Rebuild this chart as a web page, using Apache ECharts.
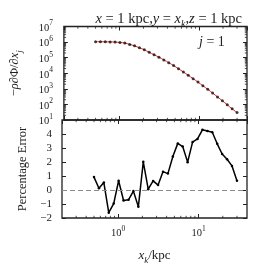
<!DOCTYPE html>
<html>
<head>
<meta charset="utf-8">
<script src="https://cdn.jsdelivr.net/npm/echarts@6/dist/echarts.min.js"></script>
<style>html,body{margin:0;padding:0;background:#fff}#c{width:257px;height:272px}</style>
</head>
<body>
<div id="c"></div>
<script>
// x_k positions (kpc)
const xk = [0.5, 0.576, 0.663, 0.763, 0.879, 1.012, 1.166, 1.343, 1.546, 1.781,
  2.051, 2.362, 2.720, 3.132, 3.607, 4.154, 4.784, 5.509, 6.345, 7.307,
  8.414, 9.690, 11.16, 12.85, 14.80, 17.04, 19.63, 22.60, 26.03, 30.0];
// -rho dPhi/dx_j
const forceVals = [1.05e6, 1.05e6, 1.04e6, 1.03e6, 1.0e6, 9.5e5, 8.7e5, 7.1e5, 5.75e5, 4.27e5,
  3.24e5, 2.19e5, 1.55e5, 1.07e5, 7.2e4, 4.8e4, 3.1e4, 1.95e4, 1.2e4, 7.4e3,
  4.5e3, 2.7e3, 1.58e3, 930, 537, 302, 170, 95, 52, 30];
// Percentage error
const errVals = [0.92, 0.12, 0.53, -1.62, -0.97, 0.66, -0.75, -0.70, -0.08, -1.2,
  2.01, 0.06, 0.65, 0.35, 1.31, 1.17, 2.39, 3.33, 3.1, 1.99,
  3.42, 3.65, 4.3, 4.22, 4.12, 3.3, 2.57, 2.2, 1.72, 0.66];
const xRange = [0.2, 40];
const forceRange = [10, 1e7];
const errRange = [-2, 5];
const errTicks = [-2, -1, 0, 1, 2, 3, 4];
const xMinorTicks = [0.3, 0.4, 0.5, 0.6, 0.7, 0.8, 0.9, 2, 3, 4, 5, 6, 7, 8, 9, 20, 30];
const forceMinorTicks = [];
[1, 2, 3, 4, 5, 6].forEach(e => { [2,3,4,5,6,7,8,9].forEach(m => forceMinorTicks.push(m * Math.pow(10, e))); });

const FONT = 'Liberation Serif';
const INK = '#222';

function powLabel(v) {
  const e = Math.log10(v);
  const r = Math.round(e);
  if (Math.abs(e - r) > 1e-6) return '';
  return '{b|10}{s|' + r + '}';
}
const powRich = {
  b: { fontSize: 10.5, fontFamily: FONT, color: INK, lineHeight: 14, verticalAlign: 'bottom' },
  s: { fontSize: 7.5, fontFamily: FONT, color: INK, lineHeight: 14, verticalAlign: 'top' }
};

const chart = echarts.init(document.getElementById('c'), null, { renderer: 'canvas' });

const gridL = 62, gridR = 10;
const baseTick = { show: true, inside: true, length: 4, lineStyle: { color: INK, width: 1 } };
const noLine = { show: false, onZero: false };

function minorRender(lo, hi, horizontal) {
  return function (params, api) {
    const v = api.value(0);
    let a, b;
    if (horizontal) {
      a = api.coord([v, lo]); b = api.coord([v, hi]);
      return { type: 'group', children: [
        { type: 'line', shape: { x1: a[0], y1: a[1], x2: a[0], y2: a[1] - 2.2 }, style: { stroke: INK, lineWidth: 0.8 } },
        { type: 'line', shape: { x1: b[0], y1: b[1], x2: b[0], y2: b[1] + 2.2 }, style: { stroke: INK, lineWidth: 0.8 } }
      ] };
    } else {
      a = api.coord([lo, v]); b = api.coord([hi, v]);
      return { type: 'group', children: [
        { type: 'line', shape: { x1: a[0], y1: a[1], x2: a[0] + 2.2, y2: a[1] }, style: { stroke: INK, lineWidth: 0.8 } },
        { type: 'line', shape: { x1: b[0], y1: b[1], x2: b[0] - 2.2, y2: b[1] }, style: { stroke: INK, lineWidth: 0.8 } }
      ] };
    }
  };
}

const italicRich = (fs) => ({
  i: { fontFamily: FONT, fontSize: fs, fontStyle: 'italic', color: INK },
  sub: { fontFamily: FONT, fontSize: Math.round(fs * 0.7), fontStyle: 'italic', color: INK, verticalAlign: 'bottom', lineHeight: fs * 1.5 }
});

const option = {
  animation: false,
  backgroundColor: '#fff',
  title: {
    text: '{i|x} = 1 kpc,{i|y} = {i|x}{sub|k},{i|z} = 1 kpc',
    right: 10, top: 3,
    textStyle: { fontFamily: FONT, fontSize: 14.5, fontWeight: 'normal', color: INK, rich: italicRich(14.5) }
  },
  graphic: [{
    type: 'text', left: 199, top: 35,
    style: { text: '{i|j} = 1', font: '14px "Liberation Serif"', fill: INK,
      rich: { i: { fontFamily: FONT, fontSize: 14, fontStyle: 'italic', fill: INK } } }
  }],
  grid: [
    { left: gridL, right: gridR, top: 26.5, height: 93.5, show: true, borderColor: INK, borderWidth: 1.3, backgroundColor: 'transparent' },
    { left: gridL, right: gridR, top: 120, height: 98, show: true, borderColor: INK, borderWidth: 1.3, backgroundColor: 'transparent' }
  ],
  xAxis: [
    { gridIndex: 0, type: 'log', min: xRange[0], max: xRange[1], splitNumber: 2, axisLine: noLine, axisTick: baseTick, axisLabel: { show: false }, splitLine: { show: false } },
    { gridIndex: 0, type: 'log', position: 'top', min: xRange[0], max: xRange[1], splitNumber: 2, axisLine: noLine, axisTick: baseTick, axisLabel: { show: false }, splitLine: { show: false } },
    { gridIndex: 1, type: 'log', position: 'bottom', min: xRange[0], max: xRange[1], splitNumber: 2, axisLine: noLine, axisTick: baseTick,
      axisLabel: { show: true, margin: 7, formatter: powLabel, rich: powRich, showMinLabel: false, showMaxLabel: false },
      splitLine: { show: false },
      name: '{i|x}{sub|k}/kpc', nameLocation: 'middle', nameGap: 28,
      nameTextStyle: { fontFamily: FONT, fontSize: 13, color: INK, rich: italicRich(13) } },
    { gridIndex: 1, type: 'log', position: 'top', min: xRange[0], max: xRange[1], splitNumber: 2, axisLine: noLine, axisTick: baseTick, axisLabel: { show: false }, splitLine: { show: false } }
  ],
  yAxis: [
    { gridIndex: 0, type: 'log', position: 'left', min: forceRange[0], max: forceRange[1], splitNumber: 6, axisLine: noLine, axisTick: baseTick,
      axisLabel: { margin: 11, formatter: powLabel, rich: powRich }, splitLine: { show: false },
      name: '−{i|ρ}∂Φ/∂{i|x}{sub|j}', nameLocation: 'middle', nameGap: 40,
      nameTextStyle: { fontFamily: FONT, fontSize: 12.5, color: INK, rich: italicRich(12.5) } },
    { gridIndex: 0, type: 'log', position: 'right', min: forceRange[0], max: forceRange[1], splitNumber: 6, axisLine: noLine, axisTick: baseTick, axisLabel: { show: false }, splitLine: { show: false } },
    { gridIndex: 1, type: 'value', position: 'left', min: errRange[0], max: errRange[1], interval: 1, axisLine: noLine, axisTick: baseTick,
      axisLabel: { margin: 10, fontFamily: FONT, fontSize: 11, color: INK, showMaxLabel: false,
        formatter: v => (errTicks.indexOf(v) < 0 ? '' : (v < 0 ? '−' + (-v) : String(v))) },
      splitLine: { show: false },
      name: 'Percentage Error', nameLocation: 'middle', nameGap: 27,
      nameTextStyle: { fontFamily: FONT, fontSize: 12.5, color: INK } },
    { gridIndex: 1, type: 'value', position: 'right', min: errRange[0], max: errRange[1], interval: 1, axisLine: noLine, axisTick: baseTick, axisLabel: { show: false }, splitLine: { show: false } }
  ],
  series: [
    { type: 'line', xAxisIndex: 0, yAxisIndex: 0, data: xk.map((x, i) => [x, forceVals[i]]), smooth: 0.3,
      showSymbol: false, lineStyle: { color: '#e8211f', width: 1 }, z: 3 },
    { type: 'scatter', xAxisIndex: 0, yAxisIndex: 0, data: xk.map((x, i) => [x, forceVals[i]]),
      symbol: 'circle', symbolSize: 3, itemStyle: { color: '#111' }, z: 4 },
    { type: 'line', xAxisIndex: 2, yAxisIndex: 2, data: xk.map((x, i) => [x, errVals[i]]),
      symbol: 'circle', symbolSize: 2.5, showSymbol: true, itemStyle: { color: '#000' },
      lineStyle: { color: '#000', width: 1.5 }, z: 4,
      markLine: { silent: true, symbol: 'none', label: { show: false },
        lineStyle: { color: '#8a8a8a', type: [5, 3], width: 1.2 }, data: [{ yAxis: 0 }] } },
    { type: 'custom', xAxisIndex: 0, yAxisIndex: 0, data: xMinorTicks.map(v => [v]), clip: false,
      renderItem: minorRender(forceRange[0], forceRange[1], true), silent: true, z: 5 },
    { type: 'custom', xAxisIndex: 0, yAxisIndex: 0, data: forceMinorTicks.map(v => [v]), clip: false,
      renderItem: minorRender(xRange[0], xRange[1], false), silent: true, z: 5 },
    { type: 'custom', xAxisIndex: 2, yAxisIndex: 2, data: xMinorTicks.map(v => [v]), clip: false,
      renderItem: minorRender(errRange[0], errRange[1], true), silent: true, z: 5 }
  ]
};
chart.setOption(option);
</script>
</body>
</html>
